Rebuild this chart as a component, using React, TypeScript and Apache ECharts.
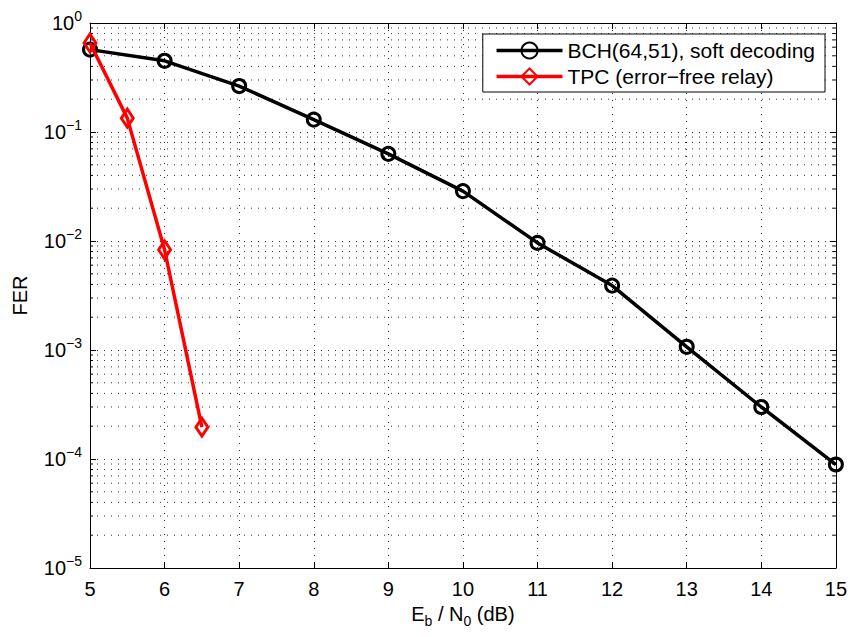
import React, { useEffect, useRef } from "react";
import * as echarts from "echarts";

const snr = [5, 6, 7, 8, 9, 10, 11, 12, 13, 14, 15];
const bchFer = [0.57, 0.45, 0.264, 0.13, 0.063, 0.0287, 0.0096, 0.0039, 0.00107, 0.0003, 0.000089];
const tpcSnr = [5, 5.5, 6, 6.5];
const tpcFer = [0.656, 0.134, 0.0083, 0.000196];
const seriesNames = ["BCH(64,51), soft decoding", "TPC (error\u2212free relay)"];
const xTicks = [5, 6, 7, 8, 9, 10, 11, 12, 13, 14, 15];
const decades = [-5, -4, -3, -2, -1, 0];

const FONT = "Liberation Sans";
const FS = 20;

export default function App() {
  const ref = useRef<HTMLDivElement>(null);
  useEffect(() => {
    if (!ref.current) return;
    const chart = echarts.init(ref.current, undefined, { renderer: "svg" });
    const minorVals: number[][] = [];
    for (let d = decades[0]; d < decades[decades.length - 1]; d++) {
      for (let k = 2; k <= 9; k++) minorVals.push([xTicks[0], k * Math.pow(10, d)]);
    }
    const xMin = xTicks[0];
    const xMax = xTicks[xTicks.length - 1];
    const gridLine = { show: true, lineStyle: { color: "#333", width: 1, type: [1, 6] as any } };
    chart.setOption({
      animation: false,
      textStyle: { fontFamily: FONT },
      grid: { left: 90, right: 14, top: 23, bottom: 69, containLabel: false },
      legend: {
        orient: "vertical",
        right: 25,
        top: 34,
        padding: [6, 10, 5, 12],
        itemGap: 5,
        itemWidth: 66,
        itemHeight: 20,
        borderColor: "#000",
        borderWidth: 1,
        backgroundColor: "#fff",
        lineStyle: { width: 3.5 },
        textStyle: { fontFamily: FONT, fontSize: 21, color: "#000" },
        data: seriesNames,
      },
      xAxis: [
        {
          type: "value",
          min: xMin,
          max: xMax,
          interval: 1,
          position: "bottom",
          name: "E{sub|b} / N{sub|0} (dB)",
          nameLocation: "middle",
          nameGap: 31,
          nameTextStyle: {
            fontFamily: FONT,
            fontSize: FS,
            color: "#000",
            rich: {
              sub: { fontSize: 14, fontFamily: FONT, color: "#000", padding: [0, 0, -14, 0] },
            },
          },
          axisLine: { show: true, onZero: false, lineStyle: { color: "#000", width: 1 } },
          axisTick: { show: true, inside: true, length: 6, lineStyle: { color: "#000" } },
          axisLabel: { fontFamily: FONT, fontSize: FS, color: "#000", margin: 11 },
          splitLine: gridLine,
        },
        {
          type: "value",
          min: xMin,
          max: xMax,
          interval: 1,
          position: "top",
          axisLine: { show: true, onZero: false, lineStyle: { color: "#000", width: 1 } },
          axisTick: { show: true, inside: true, length: 6, lineStyle: { color: "#000" } },
          axisLabel: { show: false },
          splitLine: { show: false },
        },
      ],
      yAxis: [
        {
          type: "log",
          logBase: 10,
          min: Math.pow(10, decades[0]),
          max: Math.pow(10, decades[decades.length - 1]),
          position: "left",
          name: "FER",
          nameLocation: "middle",
          nameGap: 60,
          nameRotate: 90,
          nameTextStyle: { fontFamily: FONT, fontSize: FS, color: "#000" },
          axisLine: { show: true, onZero: false, lineStyle: { color: "#000", width: 1 } },
          axisTick: { show: true, inside: true, length: 6, lineStyle: { color: "#000" } },
          axisLabel: {
            margin: 8,
            formatter: (v: number) => {
              const e = Math.round(Math.log10(v));
              const s = e < 0 ? "\u2212" + Math.abs(e) : String(e);
              return "{b|10}{s|" + s + "}";
            },
            rich: {
              b: { fontSize: FS, fontFamily: FONT, color: "#000" },
              s: { fontSize: 14, fontFamily: FONT, color: "#000", padding: [0, 0, 14, 0] },
            },
          },
          splitLine: gridLine,
        },
        {
          type: "log",
          logBase: 10,
          min: Math.pow(10, decades[0]),
          max: Math.pow(10, decades[decades.length - 1]),
          position: "right",
          axisLine: { show: true, onZero: false, lineStyle: { color: "#000", width: 1 } },
          axisTick: { show: true, inside: true, length: 6, lineStyle: { color: "#000" } },
          axisLabel: { show: false },
          splitLine: { show: false },
        },
      ],
      series: [
        {
          type: "custom",
          name: "minorGrid",
          silent: true,
          z: 1,
          xAxisIndex: 0,
          yAxisIndex: 0,
          data: minorVals,
          renderItem: (params: any, api: any) => {
            const v = api.value(1);
            const p0 = api.coord([xMin, v]);
            const p1 = api.coord([xMax, v]);
            return {
              type: "group",
              children: [
                {
                  type: "line",
                  shape: { x1: p0[0], y1: p0[1], x2: p1[0], y2: p1[1] },
                  style: { stroke: "#333", lineWidth: 1, lineDash: [1, 6] },
                },
                {
                  type: "line",
                  shape: { x1: p0[0], y1: p0[1], x2: p0[0] + 3, y2: p0[1] },
                  style: { stroke: "#000", lineWidth: 1 },
                },
                {
                  type: "line",
                  shape: { x1: p1[0] - 3, y1: p1[1], x2: p1[0], y2: p1[1] },
                  style: { stroke: "#000", lineWidth: 1 },
                },
              ],
            };
          },
        },
        {
          type: "line",
          name: seriesNames[0],
          z: 3,
          data: snr.map((x, i) => [x, bchFer[i]]),
          symbol: "circle",
          symbolSize: 13,
          lineStyle: { color: "#000", width: 3.5 },
          itemStyle: { color: "rgba(255,255,255,0)", borderColor: "#000", borderWidth: 3 },
        },
        {
          type: "line",
          name: seriesNames[1],
          z: 4,
          data: tpcSnr.map((x, i) => [x, tpcFer[i]]),
          symbol: "diamond",
          symbolSize: [12, 18],
          lineStyle: { color: "#ff0000", width: 3.5 },
          itemStyle: { color: "rgba(255,255,255,0)", borderColor: "#ff0000", borderWidth: 3 },
        },
      ],
    });
    return () => chart.dispose();
  }, []);
  return <div ref={ref} style={{ width: 850, height: 637, position: "absolute", left: 0, top: 0, background: "#fff" }} />;
}
